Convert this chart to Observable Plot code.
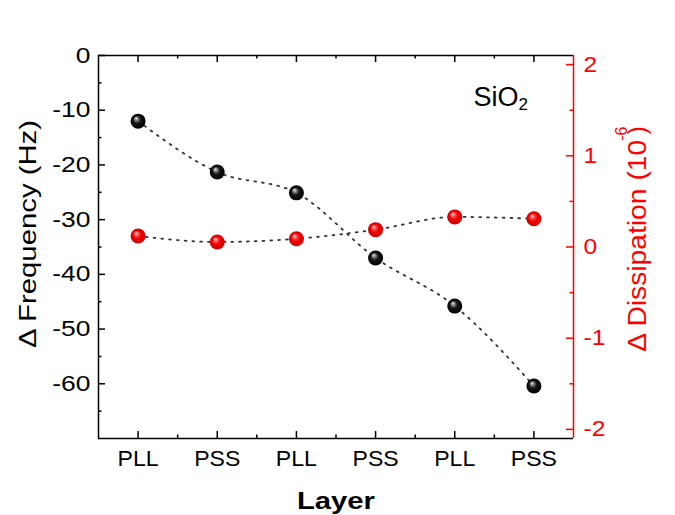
<!DOCTYPE html>
<html><head><meta charset="utf-8">
<script src="https://cdn.jsdelivr.net/npm/d3@7"></script>
<script src="https://cdn.jsdelivr.net/npm/@observablehq/plot@0.6"></script>
<style>body{margin:0;background:#fff}</style>
</head><body><div id="chart"></div>
<script>
// ---- data ----
const layers = ["PLL", "PSS", "PLL", "PSS", "PLL", "PSS"];
const frequency = [-12, -21.3, -25.1, -37, -45.8, -60.4];       // Δ Frequency (Hz)
const dissipation = [0.12, 0.055, 0.09, 0.19, 0.33, 0.31];      // Δ Dissipation (10^-6)
const freqTicks = [0, -10, -20, -30, -40, -50, -60];
const freqMinor = [-5, -15, -25, -35, -45, -55, -65];
const dissTicks = [-2, -1, 0, 1, 2];
const dissMinor = [-1.5, -0.5, 0.5, 1.5];

const freqDomain = [-70, 0];
const dissDomain = [-2.1, 2.1];
const d2f = d3.scaleLinear(dissDomain, freqDomain);

const pos = layers.map((_, i) => i + 1);
const posMinor = layers.slice(1).map((_, i) => i + 1.5);
const data = layers.map((layer, i) => ({pos: pos[i], layer, f: frequency[i], d: d2f(dissipation[i])}));

const W = 675, H = 515, mL = 98, mR = 102, mT = 55, mB = 77;
const fw = W - mL - mR, fh = H - mT - mB;
const maj = 7, mnr = 3.5;
const font = "'Liberation Sans', Arial, sans-serif";

const svg = Plot.plot({
  width: W, height: H,
  marginLeft: mL, marginRight: mR, marginTop: mT, marginBottom: mB,
  style: {fontFamily: font, background: "white", overflow: "visible"},
  x: {domain: [0.5, 6.5], axis: null},
  y: {domain: freqDomain, axis: null},
  marks: [
    // frame
    Plot.ruleX([0.5], {stroke: "black", strokeWidth: 1.5}),
    Plot.ruleY([-70], {stroke: "black", strokeWidth: 1.5}),
    Plot.ruleY([0], {stroke: "black", strokeWidth: 1.5}),
    // left ticks (inward)
    Plot.tickY(freqTicks, {y: d => d, insetRight: fw - maj, stroke: "black", strokeWidth: 1.5}),
    Plot.tickY(freqMinor, {y: d => d, insetRight: fw - mnr, stroke: "black", strokeWidth: 1.5}),
    // right ticks (red, inward)
    Plot.tickY(dissTicks.map(d2f), {y: d => d, insetLeft: fw - maj, stroke: "red", strokeWidth: 1.5}),
    Plot.tickY(dissMinor.map(d2f), {y: d => d, insetLeft: fw - mnr, stroke: "red", strokeWidth: 1.5}),
    // bottom & top ticks
    Plot.tickX(pos, {x: d => d, insetTop: fh - maj, stroke: "black", strokeWidth: 1.5}),
    Plot.tickX(posMinor, {x: d => d, insetTop: fh - mnr, stroke: "black", strokeWidth: 1.5}),
    Plot.tickX(pos, {x: d => d, insetBottom: fh - maj, stroke: "black", strokeWidth: 1.5}),
    Plot.tickX(posMinor, {x: d => d, insetBottom: fh - mnr, stroke: "black", strokeWidth: 1.5}),
    Plot.ruleX([6.5], {stroke: "red", strokeWidth: 1.5}),
    // axes labels
    Plot.axisY(freqTicks, {anchor: "left", tickSize: 0, tickPadding: 8, tickFormat: d => String(d), fontSize: 22, fill: "black", label: null}),
    Plot.axisY(dissTicks.map(d2f), {anchor: "right", tickSize: 0, tickPadding: 10, tickFormat: f => String(Math.round(d2f.invert(f))), fontSize: 22, fill: "red", stroke: "red", label: null}),
    Plot.axisX(pos, {anchor: "bottom", tickSize: 0, tickPadding: 12, tickFormat: i => layers[i - 1], fontSize: 22, fill: "black", label: null}),
    // lines
    Plot.line(data, {x: "pos", y: "f", curve: "monotone-x", stroke: "#333", strokeWidth: 1.8, strokeDasharray: "1.8 6"}),
    Plot.line(data, {x: "pos", y: "d", curve: "monotone-x", stroke: "#333", strokeWidth: 1.8, strokeDasharray: "1.8 6"}),
    // dots
    Plot.dot(data, {x: "pos", y: "f", r: 7.5, fill: "url(#gBlack)"}),
    Plot.dot(data, {x: "pos", y: "d", r: 7.5, fill: "url(#gRed)"}),
    // titles
    Plot.text(["Δ Frequency (Hz)"], {text: d => d, frameAnchor: "left", dx: -63, dy: -13, rotate: -90, lineAnchor: "bottom", textAnchor: "middle", fontSize: 24, fill: "black"}),
    Plot.text(["Δ Dissipation (10-6)"], {text: d => d, frameAnchor: "right", dx: 72, dy: -8, rotate: -90, lineAnchor: "bottom", textAnchor: "middle", fontSize: 25, fill: "red"}),
    Plot.text(["Layer"], {text: d => d, frameAnchor: "bottom", dy: 70, lineAnchor: "bottom", textAnchor: "middle", fontSize: 24, fontWeight: "bold", fill: "black"}),
    Plot.text(["SiO2"], {text: d => d, frameAnchor: "top-right", dx: -100, dy: 50, lineAnchor: "bottom", textAnchor: "start", fontSize: 27, fill: "black"})
  ]
});

document.getElementById("chart").appendChild(svg);

// gradients for glossy spheres
const defs = d3.select(svg).insert("defs", ":first-child");
function grad(id, stops) {
  const g = defs.append("radialGradient").attr("id", id)
    .attr("cx", "50%").attr("cy", "50%").attr("r", "50%").attr("fx", "36%").attr("fy", "30%");
  stops.forEach(([o, c]) => g.append("stop").attr("offset", o).attr("stop-color", c));
}
grad("gBlack", [[0, "#f0f0f0"], [0.22, "#888"], [0.5, "#161616"], [1, "#000"]]);
grad("gRed", [[0, "#fff0f0"], [0.22, "#ff6060"], [0.55, "#f20000"], [1, "#c80000"]]);

// text refinements
const NS = "http://www.w3.org/2000/svg";
function stretch(el, k) {
  const L = el.getComputedTextLength();
  if (L > 0) {
    el.setAttribute("textLength", (L * k).toFixed(1));
    el.setAttribute("lengthAdjust", "spacingAndGlyphs");
  }
}
const svgRect = svg.getBoundingClientRect();
const texts = Array.from(svg.querySelectorAll("text"));
texts.forEach(t => {
  const s = t.textContent;
  if (s === "Δ Frequency (Hz)") {
    t.setAttribute("textLength", 228);
    t.setAttribute("lengthAdjust", "spacingAndGlyphs");
  } else if (s === "Layer") {
    t.setAttribute("textLength", 78);
    t.setAttribute("lengthAdjust", "spacingAndGlyphs");
  } else if (s === "Δ Dissipation (10-6)") {
    t.textContent = "";
    const a = document.createElementNS(NS, "tspan");
    a.textContent = "Δ Dissipation (10";
    const b = document.createElementNS(NS, "tspan");
    b.textContent = "-6"; b.setAttribute("font-size", 16); b.setAttribute("dy", -19); b.setAttribute("dx", -1);
    const c = document.createElementNS(NS, "tspan");
    c.textContent = ")"; c.setAttribute("dy", 19); c.setAttribute("dx", -8);
    t.append(a, b, c);
    stretch(a, 1.13);
  } else if (s === "SiO2") {
    t.textContent = "SiO";
    const sub = document.createElementNS(NS, "tspan");
    sub.textContent = "2"; sub.setAttribute("font-size", 17); sub.setAttribute("dy", 4);
    t.append(sub);
  } else {
    // tick labels: choose stretch by side
    const r = t.getBoundingClientRect();
    const cx = (r.left + r.right) / 2 - svgRect.left;
    const k = cx < mL ? 1.2 : cx > W - mR ? 1.12 : 1.05;
    stretch(t, k);
  }
});
</script>
</body></html>
